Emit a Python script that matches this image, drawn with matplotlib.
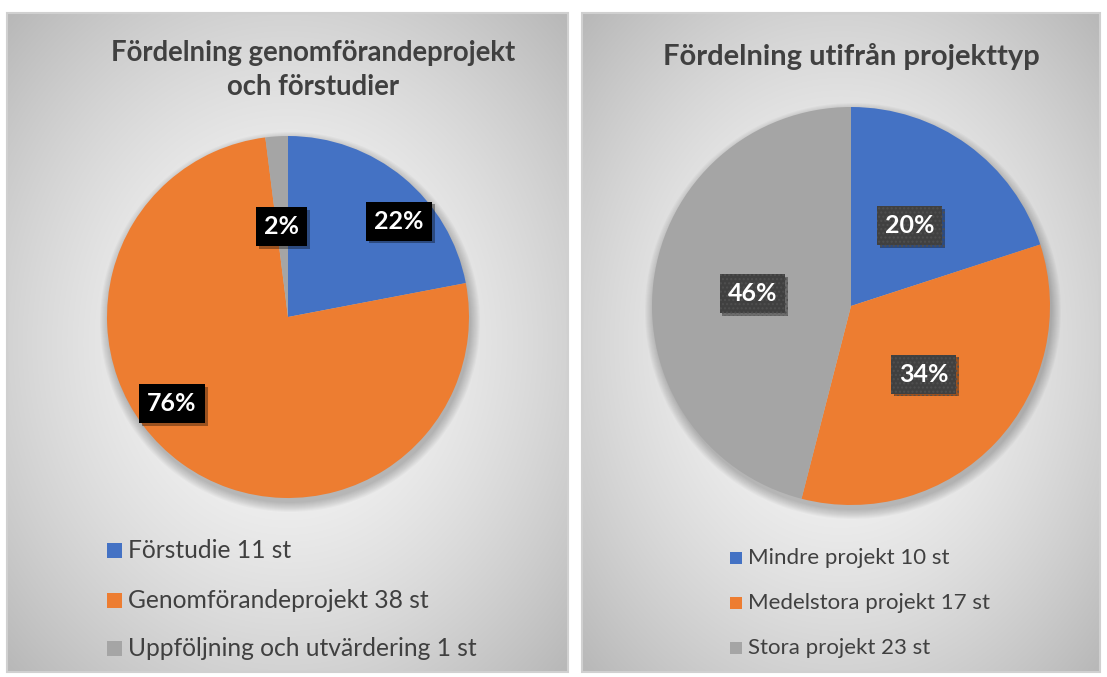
import numpy as np
import matplotlib.pyplot as plt
from matplotlib.patches import Rectangle, Circle
from matplotlib import patheffects

plt.rcParams['font.family'] = ['Lato', 'DejaVu Sans']

W, H = 1107, 677

# data
left_title = "Fördelning genomförandeprojekt\noch förstudier"
left_labels = ["Förstudie", "Genomförandeprojekt", "Uppföljning och utvärdering"]
left_counts = [11, 38, 1]

right_title = "Fördelning utifrån projekttyp"
right_labels = ["Mindre projekt", "Medelstora projekt", "Stora projekt"]
right_counts = [10, 17, 23]

colors = ['#4472c4', '#ed7d31', '#a5a5a5']
text_col = '#404040'


def panel_bg(ax, x0, y0, x1, y1):
    # radial grey gradient like the office chart area
    nx, ny = 200, 200
    xx, yy = np.meshgrid(np.linspace(-1, 1, nx), np.linspace(-1, 1, ny))
    d = np.sqrt(xx ** 2 + yy ** 2)
    g = (251 - 40 * d ** 1.5) / 255.0
    img = np.dstack([g, g, g])
    ax.imshow(img, extent=(x0, x1, H - y1, H - y0), zorder=0,
              interpolation='bilinear', aspect='auto')
    ax.add_patch(Rectangle((x0, H - y1), x1 - x0, y1 - y0, fill=False,
                           edgecolor='#d0d0d0', lw=1.5, zorder=1))


def draw_pie(ax, counts, cx, cy, r, label_pos, box_style):
    # soft shadow under the pie
    for k in range(10):
        ax.add_patch(Circle((cx + 2, H - cy - 5), r + 9 - k, color='black',
                            alpha=0.025, lw=0, zorder=2))
    wedges, _ = ax.pie(counts, colors=colors, startangle=90, counterclock=False,
                       center=(cx, H - cy), radius=r, frame=True,
                       wedgeprops=dict(linewidth=0, zorder=3))
    total = sum(counts)
    for w, c, (dist, shift) in zip(wedges, counts, label_pos):
        ang = np.deg2rad((w.theta1 + w.theta2) / 2 + shift)
        x = cx + r * dist * np.cos(ang)
        y = H - cy + r * dist * np.sin(ang)
        t = ax.text(x, y, f"{c / total * 100:.0f}%", ha='center', va='center',
                    color='white', fontsize=18, fontweight='bold', zorder=5,
                    bbox=box_style)
        t.get_bbox_patch().set_path_effects([
            patheffects.SimplePatchShadow(offset=(2, -2), shadow_rgbFace='black', alpha=0.35),
            patheffects.Normal()])


def draw_legend(ax, labels, counts, x, ys, sq, fs):
    for lab, c, col, y in zip(labels, counts, colors, ys):
        ax.add_patch(Rectangle((x, H - y - sq / 2), sq, sq, color=col, lw=0, zorder=4))
        ax.text(x + sq + 6, H - y, f"{lab} {c} st", ha='left', va='center',
                color=text_col, fontsize=fs, zorder=4)


fig = plt.figure(figsize=(W / 100, H / 100), dpi=100)
fig.patch.set_facecolor('white')
ax = fig.add_axes([0, 0, 1, 1])

panel_bg(ax, 7, 13, 568, 672)
panel_bg(ax, 582, 13, 1100, 672)

# left chart
ax.text(313, H - 70, left_title, ha='center', va='center', color=text_col,
        fontsize=19.8, fontweight='bold', linespacing=1.35, zorder=4)
draw_pie(ax, left_counts, 288, 317, 181,
         [(0.81, -9.6), (0.80, -17.2), (0.50, 0.4)],
         dict(boxstyle='square,pad=0.32', facecolor='black', edgecolor='none'))
draw_legend(ax, left_labels, left_counts, 107, [550, 600, 648], 15, 17.7)

# right chart
ax.text(851, H - 57, right_title, ha='center', va='center', color=text_col,
        fontsize=21, fontweight='bold', zorder=4)
draw_pie(ax, right_counts, 851, 306, 199,
         [(0.50, 0), (0.50, 0), (0.50, 0)],
         dict(boxstyle='square,pad=0.32', facecolor='#404040', edgecolor='#4f4f4f',
              lw=0, hatch='....'))
draw_legend(ax, right_labels, right_counts, 730, [558, 603, 648], 12, 16)

ax.set_xlim(0, W)
ax.set_ylim(0, H)
ax.set_aspect('auto')
ax.axis('off')

fig.savefig('out.png', dpi=100)
